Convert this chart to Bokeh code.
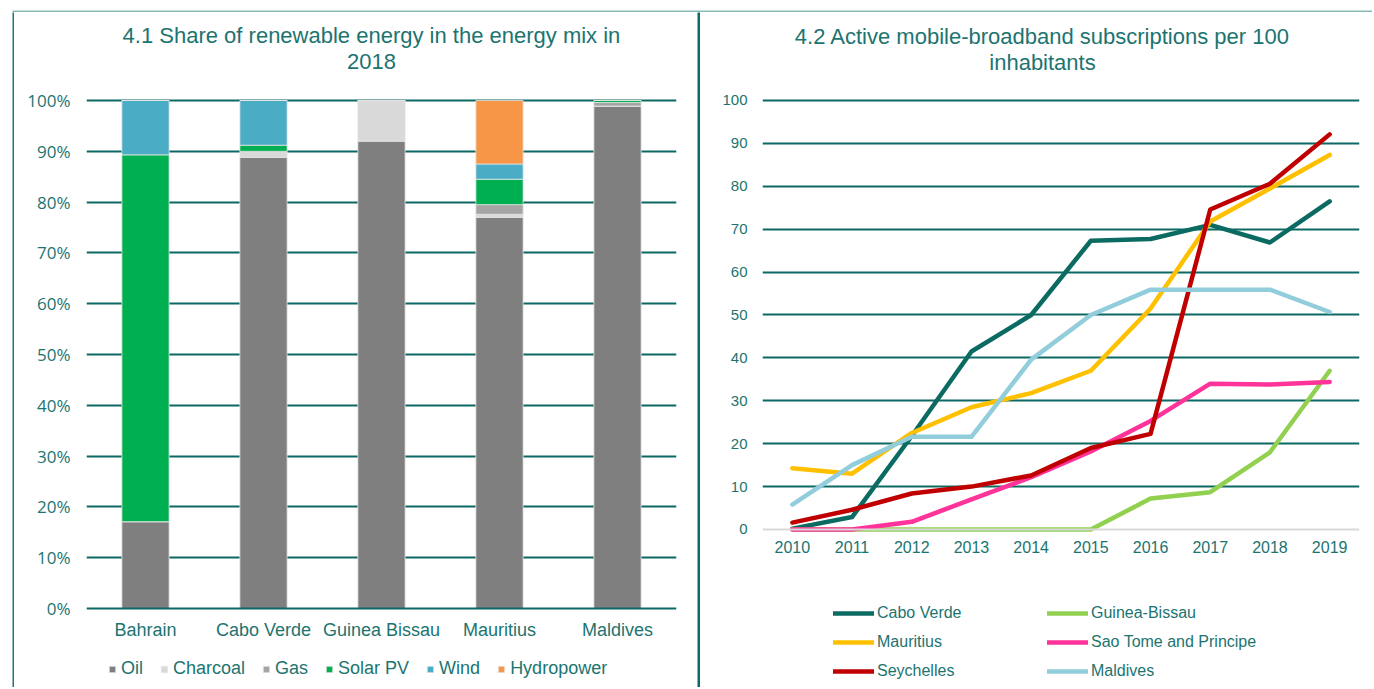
from bokeh.plotting import figure
from bokeh.models import (Range1d, FactorRange, Legend, LegendItem, Label, BoxAnnotation,
                          FixedTicker, PrintfTickFormatter, ColumnDataSource)
from bokeh.layouts import row, column
from bokeh.embed import file_html
from bokeh.resources import INLINE

# ---------------- data: chart 4.1 ----------------
countries = ["Bahrain", "Cabo Verde", "Guinea Bissau", "Mauritius", "Maldives"]
sources_names = ["Oil", "Charcoal", "Gas", "Solar PV", "Wind", "Hydropower"]
oil = [17.1, 88.8, 92.0, 77.0, 98.9]
charcoal = [0.0, 1.0, 8.0, 0.6, 0.0]
gas = [0.0, 0.2, 0.0, 1.9, 0.7]
solar_pv = [72.2, 1.2, 0.0, 5.0, 0.4]
wind = [10.7, 8.8, 0.0, 3.0, 0.0]
hydropower = [0.0, 0.0, 0.0, 12.5, 0.0]
bar_colors = ["#7f7f7f", "#d9d9d9", "#a5a5a5", "#00b050", "#4bacc6", "#f79646"]
pct_ticks = list(range(0, 101, 10))

# ---------------- data: chart 4.2 ----------------
years = ["2010", "2011", "2012", "2013", "2014", "2015", "2016", "2017", "2018", "2019"]
cabo_verde = [0.2, 2.9, 21.8, 41.5, 50.0, 67.3, 67.7, 71.0, 66.9, 76.5]
guinea_bissau = [0.0, 0.0, 0.0, 0.0, 0.0, 0.0, 7.2, 8.7, 18.0, 37.0]
mauritius = [14.3, 13.0, 22.5, 28.5, 31.8, 37.0, 51.5, 71.8, 79.5, 87.3]
sao_tome = [0.0, 0.0, 1.8, 7.0, 12.2, 18.2, 25.3, 34.0, 33.8, 34.4]
seychelles = [1.6, 4.6, 8.4, 10.0, 12.6, 19.0, 22.3, 74.6, 80.6, 92.1]
maldives = [5.8, 15.0, 21.6, 21.6, 39.6, 50.0, 55.9, 55.9, 55.9, 50.7]
line_names = ["Cabo Verde", "Guinea-Bissau", "Mauritius", "Sao Tome and Principe", "Seychelles", "Maldives"]
line_values = [cabo_verde, guinea_bissau, mauritius, sao_tome, seychelles, maldives]
line_colors = ["#0b6b62", "#92d050", "#ffc000", "#ff3399", "#c00000", "#92cddc"]
val_ticks = list(range(0, 101, 10))

TEAL_TEXT = "#1c7470"
GRID = "#0c6863"
FONT = "Liberation Sans"


def style_common(p):
    p.outline_line_color = None
    p.xgrid.visible = False
    p.ygrid.grid_line_color = GRID
    p.ygrid.grid_line_width = 2
    for ax in (p.xaxis, p.yaxis):
        ax.major_tick_line_color = None
        ax.minor_tick_line_color = None
        ax.major_tick_out = 0
        ax.major_tick_in = 0
        ax.minor_tick_out = 0
        ax.major_label_text_font = FONT
        ax.major_label_text_color = TEAL_TEXT
    p.yaxis.axis_line_color = None


H = 675  # figure height (page y 12 .. 687)

# ================= left chart =================
src = ColumnDataSource(dict(country=countries, Oil=oil, Charcoal=charcoal, Gas=gas,
                            **{"Solar PV": solar_pv}, Wind=wind, Hydropower=hydropower))
p1 = figure(x_range=FactorRange(*countries), y_range=Range1d(-15.55, 117.32),
            width=683, height=H, output_backend="svg", toolbar_location=None,
            min_border_left=72, min_border_right=21, min_border_top=0, min_border_bottom=0)
rs = p1.vbar_stack(sources_names, x="country", width=0.4, color=bar_colors, source=src,
                   line_color="#e4e4e4", line_width=0.8)
style_common(p1)
p1.ygrid.ticker = FixedTicker(ticks=pct_ticks[1:])
p1.yaxis.ticker = FixedTicker(ticks=pct_ticks)
p1.yaxis.formatter = PrintfTickFormatter(format="%d%%")
p1.yaxis.major_label_standoff = 16
p1.yaxis.major_label_text_font = "Open Sans"
p1.yaxis.major_label_text_font_size = "17px"
p1.xaxis.fixed_location = 0
p1.xaxis.axis_line_color = GRID
p1.xaxis.axis_line_width = 2
p1.xaxis.major_label_standoff = 11
p1.xaxis.major_label_text_font_size = "18px"

leg1 = Legend(items=[LegendItem(label=n, renderers=[r]) for n, r in zip(sources_names, rs)],
              orientation="horizontal", location=(22, 8),
              glyph_width=8, glyph_height=8, label_height=8, label_standoff=5, spacing=17,
              padding=0, margin=0, border_line_color=None, background_fill_alpha=0,
              label_text_font=FONT, label_text_font_size="18px", label_text_color=TEAL_TEXT)
p1.add_layout(leg1)

for txt, yy in [("4.1 Share of renewable energy in the energy mix in", 112.8), ("2018", 107.68)]:
    p1.add_layout(Label(x=2.415, y=yy, text=txt, text_align="center", text_baseline="middle",
                        text_font=FONT, text_font_size="22px", text_color=TEAL_TEXT))

# ================= right chart =================
p2 = figure(x_range=FactorRange(*years), y_range=Range1d(-36.83, 120.51),
            width=672, height=H, output_backend="svg", toolbar_location=None,
            min_border_left=62, min_border_right=13, min_border_top=0, min_border_bottom=0)
lrs = []
for name, vals, col in zip(line_names, line_values, line_colors):
    lrs.append(p2.line(x=years, y=vals, line_width=4.5, line_color=col,
                       line_join="round", line_cap="round"))
style_common(p2)
p2.ygrid.ticker = FixedTicker(ticks=val_ticks[1:])
p2.yaxis.ticker = FixedTicker(ticks=val_ticks)
p2.yaxis.major_label_standoff = 15
p2.yaxis.major_label_text_font_size = "15px"
p2.xaxis.fixed_location = 0
p2.xaxis.axis_line_color = "#d9d9d9"
p2.xaxis.axis_line_width = 2
p2.xaxis.major_label_standoff = 12
p2.xaxis.major_label_text_font_size = "16px"

for idxs, xoff in [([0, 2, 4], 71), ([1, 3, 5], 285)]:
    lg = Legend(items=[LegendItem(label=line_names[i], renderers=[lrs[i]]) for i in idxs],
                orientation="vertical", location=(xoff, 6),
                glyph_width=41, glyph_height=20, label_height=20, label_standoff=3, spacing=9,
                padding=0, margin=0, border_line_color=None, background_fill_alpha=0,
                label_text_font=FONT, label_text_font_size="16px", label_text_color=TEAL_TEXT)
    p2.add_layout(lg)

for txt, yy in [("4.2 Active mobile-broadband subscriptions per 100", 114.92), ("inhabitants", 108.86)]:
    p2.add_layout(Label(x=4.69, y=yy, text=txt, text_align="center", text_baseline="middle",
                        text_font=FONT, text_font_size="22px", text_color=TEAL_TEXT))


# ================= frame lines (solid-colour canvases) & layout =================
def block(w, h, color):
    f = figure(width=w, height=h, output_backend="svg", toolbar_location=None,
               min_border=0, x_axis_type=None, y_axis_type=None)
    f.grid.visible = False
    f.outline_line_color = None
    f.background_fill_color = color
    f.border_fill_color = color
    return f


# top strip: white band with the thin light-teal rule along its lower edge
top = figure(width=1372, height=12, output_backend="svg", toolbar_location=None,
             min_border=0, x_axis_type=None, y_axis_type=None,
             x_range=Range1d(0, 1372), y_range=Range1d(0, 12))
top.grid.visible = False
top.outline_line_color = None
top.add_layout(BoxAnnotation(left=12, right=1372, bottom=0, top=2,
                             fill_color="#86bbb6", fill_alpha=1, line_color=None))

layout = column(
    top,
    row(block(12, H, "white"), block(2, H, "#1f7773"), p1, block(3, H, "#0b6b66"), p2),
)

open("out.html", "w").write(file_html(layout, INLINE))
